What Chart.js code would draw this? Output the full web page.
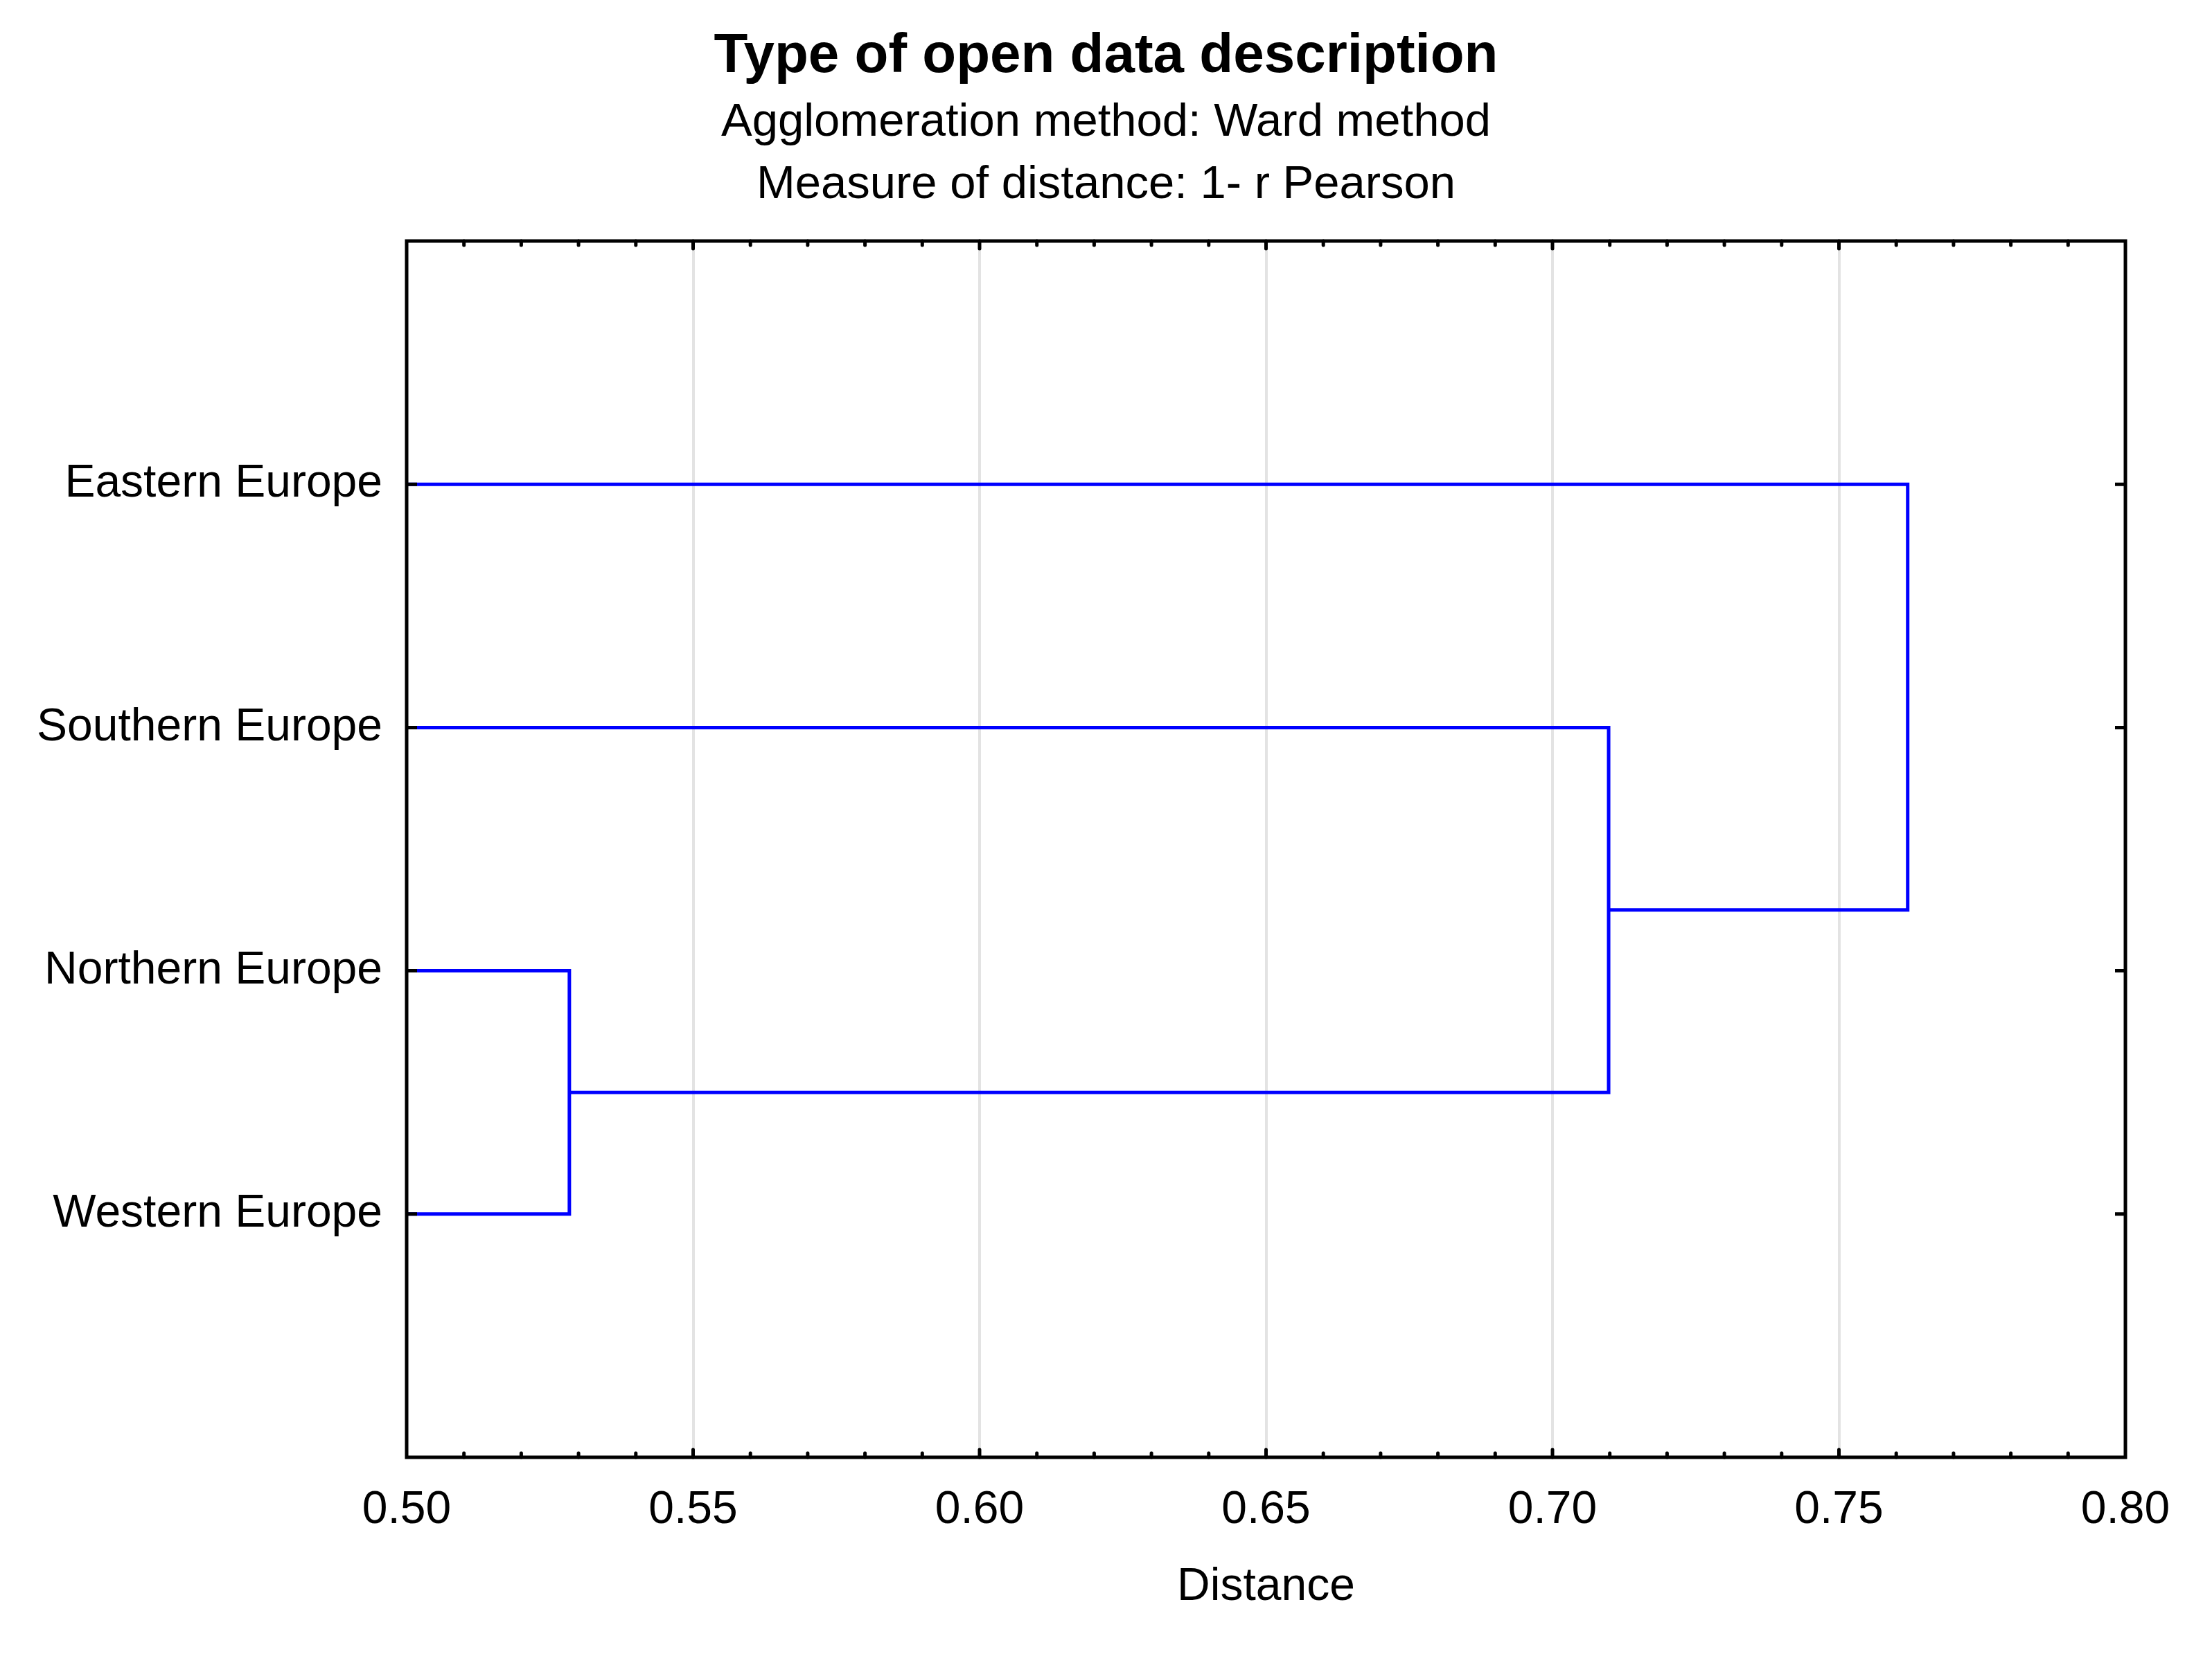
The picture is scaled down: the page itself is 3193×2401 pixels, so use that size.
<!DOCTYPE html>
<html>
<head>
<meta charset="utf-8">
<script src="https://cdn.jsdelivr.net/npm/chart.js@4.4.1/dist/chart.umd.min.js"></script>
<style>
  html, body { margin: 0; padding: 0; background: #ffffff; }
  #wrap { width: 3193px; height: 2401px; }
</style>
</head>
<body>
<div id="wrap"><canvas id="c" width="3193" height="2401"></canvas></div>
<script>
// ---- data ----
const chartTitle = 'Type of open data description';
const subtitleLines = ['Agglomeration method: Ward method', 'Measure of distance: 1- r Pearson'];
const xAxisTitle = 'Distance';
const leaves = ['Eastern Europe', 'Southern Europe', 'Northern Europe', 'Western Europe'];
// merges: node ids 0..3 are leaves, each merge creates node 4, 5, 6 ...
const mergeLeft = [2, 1, 0];
const mergeRight = [3, 4, 5];
const mergeDistance = [0.5284, 0.7098, 0.7620];
const xTicks = [0.50, 0.55, 0.60, 0.65, 0.70, 0.75, 0.80];

// ---- build dendrogram segments from linkage ----
const nodeX = leaves.map(() => 0);
const nodeY = leaves.map((_, i) => i + 1);
const datasets = [];
for (let m = 0; m < mergeDistance.length; m++) {
  const a = mergeLeft[m], b = mergeRight[m], d = mergeDistance[m];
  datasets.push({
    data: [
      { x: nodeX[a], y: nodeY[a] },
      { x: d, y: nodeY[a] },
      { x: d, y: nodeY[b] },
      { x: nodeX[b], y: nodeY[b] }
    ],
    borderColor: '#0000ff',
    borderWidth: 5,
    pointRadius: 0,
    showLine: true,
    fill: false,
    tension: 0,
    borderCapStyle: 'butt',
    borderJoinStyle: 'miter'
  });
  nodeX.push(d);
  nodeY.push((nodeY[a] + nodeY[b]) / 2);
}

const FONT = '"Liberation Sans", Arial, Helvetica, sans-serif';

const frameTicks = {
  id: 'frameTicks',
  afterDatasetsDraw(chart) {
    const { ctx, chartArea: ca, scales } = chart;
    const xs = scales.x, ys = scales.y;
    ctx.save();
    ctx.strokeStyle = '#000000';
    ctx.lineWidth = 5;
    ctx.lineCap = 'butt';
    // y ticks (inward, both sides)
    ys.ticks.forEach(t => {
      const py = ys.getPixelForValue(t.value);
      ctx.beginPath();
      ctx.moveTo(ca.left, py); ctx.lineTo(ca.left + 15, py);
      ctx.moveTo(ca.right, py); ctx.lineTo(ca.right - 15, py);
      ctx.stroke();
    });
    // x ticks (minor every 0.01, major at labelled values), inward top and bottom
    ctx.lineCap = 'round';
    const n = Math.round((xs.max - xs.min) / 0.01);
    for (let i = 1; i < n; i++) {
      const v = xs.min + i * 0.01;
      const px = xs.getPixelForValue(v);
      const major = (i % 5) === 0;
      const len = major ? 11 : 6;
      ctx.beginPath();
      ctx.moveTo(px, ca.bottom); ctx.lineTo(px, ca.bottom - len);
      ctx.moveTo(px, ca.top); ctx.lineTo(px, ca.top + len);
      ctx.stroke();
    }
    // frame
    ctx.lineCap = 'butt';
    ctx.lineJoin = 'miter';
    ctx.strokeRect(ca.left, ca.top, ca.right - ca.left, ca.bottom - ca.top);
    ctx.restore();
  }
};

new Chart(document.getElementById('c'), {
  type: 'scatter',
  data: { datasets },
  options: {
    responsive: false,
    devicePixelRatio: 1,
    animation: false,
    events: [],
    layout: { padding: { left: 0, right: 0, top: 0, bottom: 70 } },
    plugins: {
      legend: { display: false },
      tooltip: { enabled: false },
      title: {
        display: true,
        text: chartTitle,
        color: '#000000',
        font: { family: FONT, size: 80, weight: 'bold', lineHeight: 1.2 },
        padding: { top: 34, bottom: 0 }
      },
      subtitle: {
        display: true,
        text: subtitleLines,
        color: '#000000',
        font: { family: FONT, size: 67, weight: 'normal', lineHeight: 1.343 },
        padding: { top: 3, bottom: 35 }
      }
    },
    scales: {
      x: {
        type: 'linear',
        position: 'bottom',
        min: xTicks[0],
        max: xTicks[xTicks.length - 1],
        afterBuildTicks: (s) => { s.ticks = xTicks.map(v => ({ value: v })); },
        afterFit: (s) => { s.height = 227; },
        ticks: {
          color: '#000000',
          font: { family: FONT, size: 66 },
          padding: 37,
          maxRotation: 0,
          autoSkip: false,
          callback: (v) => Number(v).toFixed(2)
        },
        grid: {
          drawTicks: false,
          lineWidth: 4,
          color: (c) => {
            const v = c.tick ? c.tick.value : null;
            if (v === null || Math.abs(v - xTicks[0]) < 1e-9 || Math.abs(v - xTicks[xTicks.length - 1]) < 1e-9) return 'rgba(0,0,0,0)';
            return '#e3e3e3';
          }
        },
        border: { display: false },
        title: {
          display: true,
          text: xAxisTitle,
          color: '#000000',
          font: { family: FONT, size: 66, lineHeight: 1.2 },
          padding: { top: 0, bottom: 0 }
        }
      },
      y: {
        type: 'linear',
        position: 'left',
        reverse: true,
        min: 0,
        max: leaves.length + 1,
        afterBuildTicks: (s) => { s.ticks = leaves.map((_, i) => ({ value: i + 1 })); },
        afterFit: (s) => { s.width = 587; },
        ticks: {
          color: '#000000',
          font: { family: FONT, size: 66 },
          padding: 35,
          autoSkip: false,
          callback: (v) => leaves[Math.round(v) - 1] || ''
        },
        grid: { display: false, drawTicks: false },
        border: { display: false }
      },
      yRight: {
        type: 'linear',
        position: 'right',
        min: 0,
        max: leaves.length + 1,
        afterFit: (s) => { s.width = 125; },
        ticks: { display: false },
        grid: { display: false, drawTicks: false },
        border: { display: false }
      }
    }
  },
  plugins: [frameTicks]
});
</script>
</body>
</html>
